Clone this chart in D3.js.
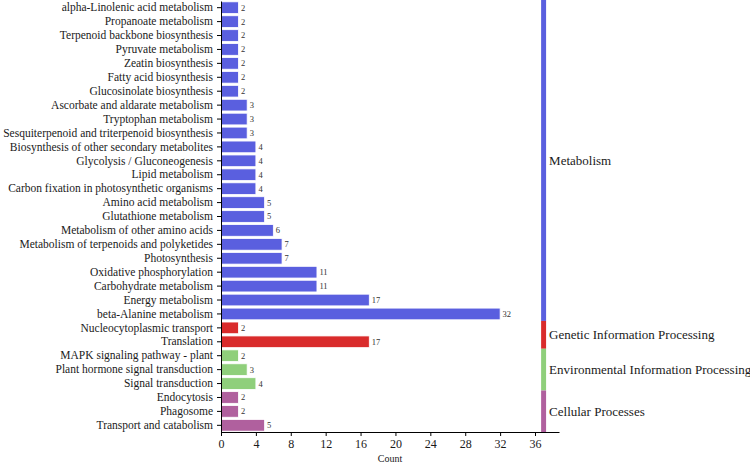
<!DOCTYPE html>
<html>
<head>
<meta charset="utf-8">
<script src="https://cdn.jsdelivr.net/npm/d3@7"></script>
<style>
  body { margin: 0; background: #fff; }
  text { font-family: "Liberation Serif", "Times New Roman", serif; }
</style>
</head>
<body>
<div id="chart"></div>
<script>
// pathway terms, top to bottom
const pathways = [
  "alpha-Linolenic acid metabolism", "Propanoate metabolism", "Terpenoid backbone biosynthesis",
  "Pyruvate metabolism", "Zeatin biosynthesis", "Fatty acid biosynthesis", "Glucosinolate biosynthesis",
  "Ascorbate and aldarate metabolism", "Tryptophan metabolism",
  "Sesquiterpenoid and triterpenoid biosynthesis", "Biosynthesis of other secondary metabolites",
  "Glycolysis / Gluconeogenesis", "Lipid metabolism", "Carbon fixation in photosynthetic organisms",
  "Amino acid metabolism", "Glutathione metabolism", "Metabolism of other amino acids",
  "Metabolism of terpenoids and polyketides", "Photosynthesis", "Oxidative phosphorylation",
  "Carbohydrate metabolism", "Energy metabolism", "beta-Alanine metabolism",
  "Nucleocytoplasmic transport", "Translation",
  "MAPK signaling pathway - plant", "Plant hormone signal transduction", "Signal transduction",
  "Endocytosis", "Phagosome", "Transport and catabolism"
];
const counts = [2, 2, 2, 2, 2, 2, 2, 3, 3, 3, 4, 4, 4, 4, 5, 5, 6, 7, 7, 11, 11, 17, 32, 2, 17, 2, 3, 4, 2, 2, 5];
const groupOf = [
  "Metabolism", "Metabolism", "Metabolism", "Metabolism", "Metabolism", "Metabolism", "Metabolism",
  "Metabolism", "Metabolism", "Metabolism", "Metabolism", "Metabolism", "Metabolism", "Metabolism",
  "Metabolism", "Metabolism", "Metabolism", "Metabolism", "Metabolism", "Metabolism", "Metabolism",
  "Metabolism", "Metabolism",
  "Genetic Information Processing", "Genetic Information Processing",
  "Environmental Information Processing", "Environmental Information Processing", "Environmental Information Processing",
  "Cellular Processes", "Cellular Processes", "Cellular Processes"
];
const groups = ["Metabolism", "Genetic Information Processing", "Environmental Information Processing", "Cellular Processes"];
const groupColors = ["#5a5fdf", "#d92b2b", "#8fcf7b", "#b0609e"];
const xTicks = [0, 4, 8, 12, 16, 20, 24, 28, 32, 36];

const width = 750, height = 465;
const margin = {left: 221, top: 0, right: 191, bottom: 33};

const svg = d3.select("#chart").append("svg")
    .attr("width", width)
    .attr("height", height);

const x = d3.scaleLinear()
    .domain([0, 38.75])
    .range([margin.left, width - margin.right]);

const y = d3.scaleBand()
    .domain(pathways)
    .range([margin.top + 1, height - margin.bottom])
    .paddingInner(0.16)
    .paddingOuter(0.06);

const color = d3.scaleOrdinal().domain(groups).range(groupColors);

// bars
svg.selectAll("rect.bar")
  .data(pathways)
  .join("rect")
    .attr("class", "bar")
    .attr("x", x(0))
    .attr("y", d => y(d))
    .attr("width", (d, i) => x(counts[i]) - x(0))
    .attr("height", y.bandwidth())
    .attr("fill", (d, i) => color(groupOf[i]))
    .attr("stroke", "#fff")
    .attr("stroke-width", 0.8);

// value labels
svg.selectAll("text.val")
  .data(pathways)
  .join("text")
    .attr("class", "val")
    .attr("x", (d, i) => x(counts[i]) + 2.5)
    .attr("y", d => y(d) + y.bandwidth() / 2)
    .attr("dy", "0.35em")
    .attr("font-size", 8.5)
    .attr("fill", "#333")
    .text((d, i) => counts[i]);

// axes
const yAxis = svg.append("g")
    .attr("transform", `translate(${x(0)},0)`)
    .call(d3.axisLeft(y).tickSize(4).tickPadding(4).tickSizeOuter(0));
yAxis.selectAll("text").attr("font-size", 11.5).attr("fill", "#1a1a1a")
    .style("font-family", "Liberation Serif, serif");

const xAxis = svg.append("g")
    .attr("transform", `translate(0,${height - margin.bottom})`)
    .call(d3.axisBottom(x).tickValues(xTicks).tickSize(4).tickPadding(3).tickSizeOuter(0));
xAxis.selectAll("text").attr("font-size", 12).attr("fill", "#1a1a1a")
    .style("font-family", "Liberation Serif, serif");

svg.append("text")
    .attr("x", (x.range()[0] + x.range()[1]) / 2)
    .attr("y", 462)
    .attr("text-anchor", "middle")
    .attr("font-size", 10)
    .attr("fill", "#1a1a1a")
    .text("Count");

// group strip on the right
const groupSpans = groups.map(g => {
  const members = pathways.filter((p, i) => groupOf[i] === g);
  const top = y(members[0]) - y.step() * y.paddingInner() / 2;
  const bottom = y(members[members.length - 1]) + y.bandwidth() + y.step() * y.paddingInner() / 2;
  return {g, top, bottom};
});
groupSpans[0].top = 0;
groupSpans[groupSpans.length - 1].bottom = height - margin.bottom;

svg.selectAll("rect.strip")
  .data(groupSpans)
  .join("rect")
    .attr("class", "strip")
    .attr("x", x(36.7))
    .attr("width", x(37.27) - x(36.7))
    .attr("y", d => d.top)
    .attr("height", d => d.bottom - d.top)
    .attr("fill", d => color(d.g));

svg.selectAll("text.grp")
  .data(groupSpans)
  .join("text")
    .attr("class", "grp")
    .attr("x", x(37.27) + 3)
    .attr("y", d => (d.top + d.bottom) / 2)
    .attr("dy", "0.35em")
    .attr("font-size", 13)
    .attr("fill", "#1a1a1a")
    .text(d => d.g);
</script>
</body>
</html>
